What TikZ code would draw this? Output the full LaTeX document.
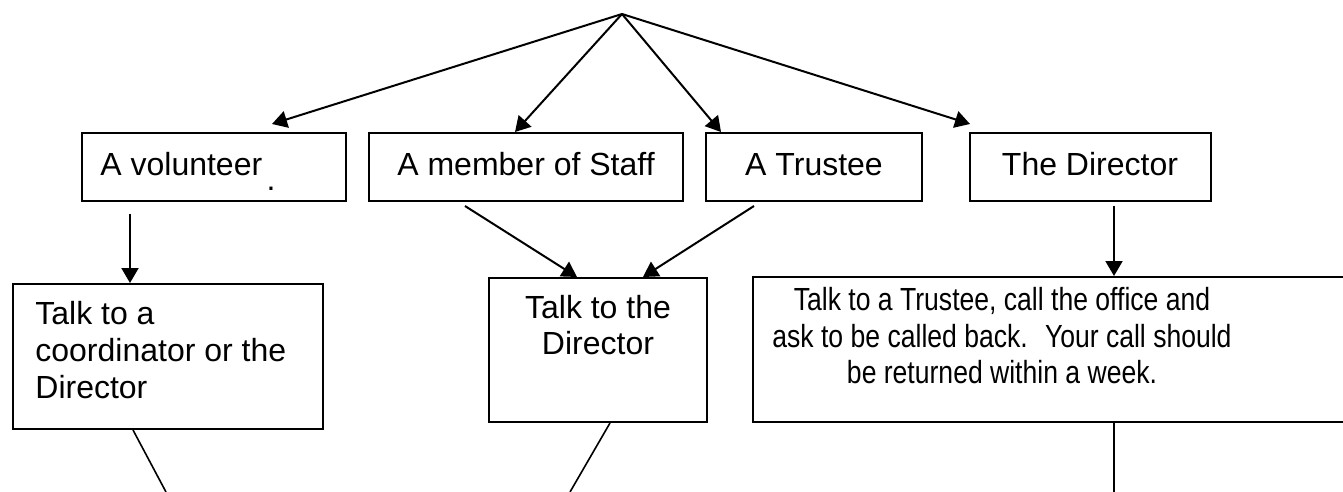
\documentclass[tikz,border=0pt]{standalone}
\usepackage{fontspec}
\setmainfont{Liberation Sans}
\newfontfamily\narrowfont[FakeStretch=0.83]{Liberation Sans}
\usetikzlibrary{arrows.meta,calc}
\begin{document}
\begin{tikzpicture}[x=0.5pt,y=-0.5pt,
  box/.style={draw, line width=1pt, inner sep=0pt},
  txt/.style={inner sep=0pt, font=\fontsize{16}{18.5}\selectfont},
  arr/.style={line width=1pt, -{Triangle[length=7.5pt,width=8.5pt]}},
  ln/.style={line width=0.8pt}]
\useasboundingbox (0,0) rectangle (1343,492);
\coordinate (apex) at (622,14);
% boxes
\node[box, minimum width=132pt, minimum height=34pt] (vol) at (214,167) {};
\node[box, minimum width=157pt, minimum height=34pt] (staff) at (526,167) {};
\node[box, minimum width=108pt, minimum height=34pt] (trustee) at (814,167) {};
\node[box, minimum width=120.5pt, minimum height=34pt] (director) at (1090.5,167) {};
\node[box, minimum width=155pt, minimum height=72.5pt] (coord) at (168,356.5) {};
\node[box, minimum width=109pt, minimum height=72pt] (talkdir) at (598,350) {};
\node[box, minimum width=299.5pt, minimum height=72.5pt] (call) at (1052.5,349.5) {};
% texts
\node[txt, anchor=base west] (tvol) at (100,175) {A volunteer};
\node[txt, anchor=base] (tdot) at (271,191) {.};
\node[txt, anchor=base] (tstaff) at (526,175) {A member of Staff};
\node[txt, anchor=base] (ttrustee) at (814,175) {A Trustee};
\node[txt, anchor=base] (tdir) at (1090,175) {The Director};
\node[txt, anchor=north west, align=left] (tcoord) at (35,301) {Talk to a\\coordinator or the\\Director};
\node[txt, anchor=north, align=center, font=\fontsize{16}{17.8}\selectfont] (ttalk) at (598,295) {Talk to the\\Director};
\node[txt, anchor=north, align=center, font=\narrowfont\fontsize{16}{18.3}\selectfont] (tcall) at (1002,287) {Talk to a Trustee, call the office and\\ask to be called back.~ Your call should\\be returned within a week.};
% connectors
\draw[arr] (apex) -- ($(vol.north)+(58,-8)$);
\draw[arr] (apex) -- ($(staff.north)+(-11,0)$);
\draw[arr] (apex) -- ($(trustee.north)+(-93,0)$);
\draw[arr] (apex) -- ($(director.north)+(-120.5,-8)$);
\draw[arr] ($(vol.south)+(-84,12)$) -- ($(coord.north)+(-38,0)$);
\draw[arr] ($(staff.south)+(-61,4)$) -- ($(talkdir.north)+(-21,0)$);
\draw[arr] ($(trustee.south)+(-60,4)$) -- ($(talkdir.north)+(45,0)$);
\draw[arr] ($(director.south)+(23.5,4)$) -- ($(call.north)+(61.5,0)$);
\coordinate (e1) at (166,492);
\coordinate (e2) at (570,492);
\coordinate (e3) at (1114,492);
\draw[ln] ($(coord.south)+(-35,0)$) -- (e1);
\draw[ln] ($(talkdir.south)+(12,0)$) -- (e2);
\draw[ln] ($(call.south)+(61.5,0)$) -- (e3);
\end{tikzpicture}
\end{document}
